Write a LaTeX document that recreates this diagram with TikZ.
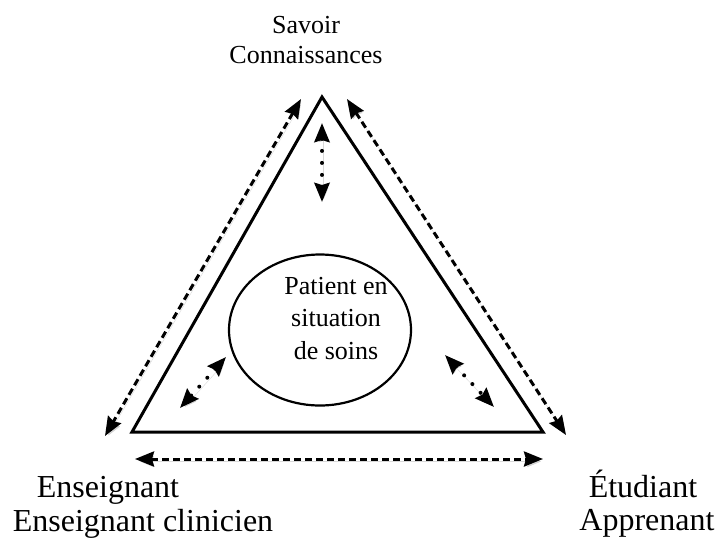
\documentclass[tikz,border=0pt]{standalone}
\usepackage{fontspec}
\setmainfont{Liberation Serif}
\usepackage{tikz}
\usetikzlibrary{arrows.meta,positioning,shapes.geometric,calc}

\begin{document}
\begin{tikzpicture}[x=1pt,y=-1pt,>={Stealth[length=19pt,width=15pt,inset=2pt]},
pole/.style={anchor=base,inner sep=0pt,font=\fontsize{32}{37}\selectfont},
polesmall/.style={anchor=base,inner sep=0pt,font=\fontsize{26}{32}\selectfont},
center/.style={align=center,inner sep=0pt,font=\fontsize{26}{32.5}\selectfont},
shade/.style={preaction={draw=black!30,opacity=0.5,transform canvas={shift={(1.5pt,-2.5pt)}}}},
dashlink/.style={<->,shade,line width=3pt,dash pattern=on 7pt off 4pt},
dotlink/.style={<->,shade,line width=4pt,line cap=round,dash pattern=on 0pt off 12pt}]
\useasboundingbox (0,0) rectangle (716,542);
% triangle
\coordinate (top) at (322,97);
\coordinate (bl) at (132,432);
\coordinate (br) at (543,432);
\draw[line width=3pt,line join=miter] (top) -- (bl) -- (br) -- cycle;
\node[draw,ellipse,line width=2.2pt,minimum width=182pt,minimum height=151pt] (patient) at (320,330) {};
\node[center] (patienttxt) at (336,318.5) {Patient en\\situation\\de soins};
% poles
\node[polesmall] (savoir) at (306,33) {Savoir};
\node[polesmall] (conn) at (306,63) {Connaissances};
\node[pole] (ens) at (108,497) {Enseignant};
\node[pole] (ensclin) at (143,531) {Enseignant clinicien};
\node[pole] (etud) at (643,497) {Étudiant};
\node[pole] (appr) at (647,530) {Apprenant};
% arrow ends
\coordinate (l1) at (301,99);
\coordinate (l2) at (105,436);
\coordinate (r1) at (347,99);
\coordinate (r2) at (566,435);
\coordinate (b1) at (135,459);
\coordinate (b2) at (543,459);
\coordinate (v1) at (322,123);
\coordinate (v2) at (322,202);
\coordinate (dl1) at (226,357);
\coordinate (dl2) at (180,408);
\coordinate (dr1) at (445,355);
\coordinate (dr2) at (494,407);
\draw[dashlink] (l1) -- (l2);
\draw[dashlink] (r1) -- (r2);
\draw[dashlink] (b1) -- (b2);
\draw[dotlink] (v1) -- (v2);
\draw[dotlink] (dl1) -- (dl2);
\draw[dotlink] (dr1) -- (dr2);
\end{tikzpicture}
\end{document}
